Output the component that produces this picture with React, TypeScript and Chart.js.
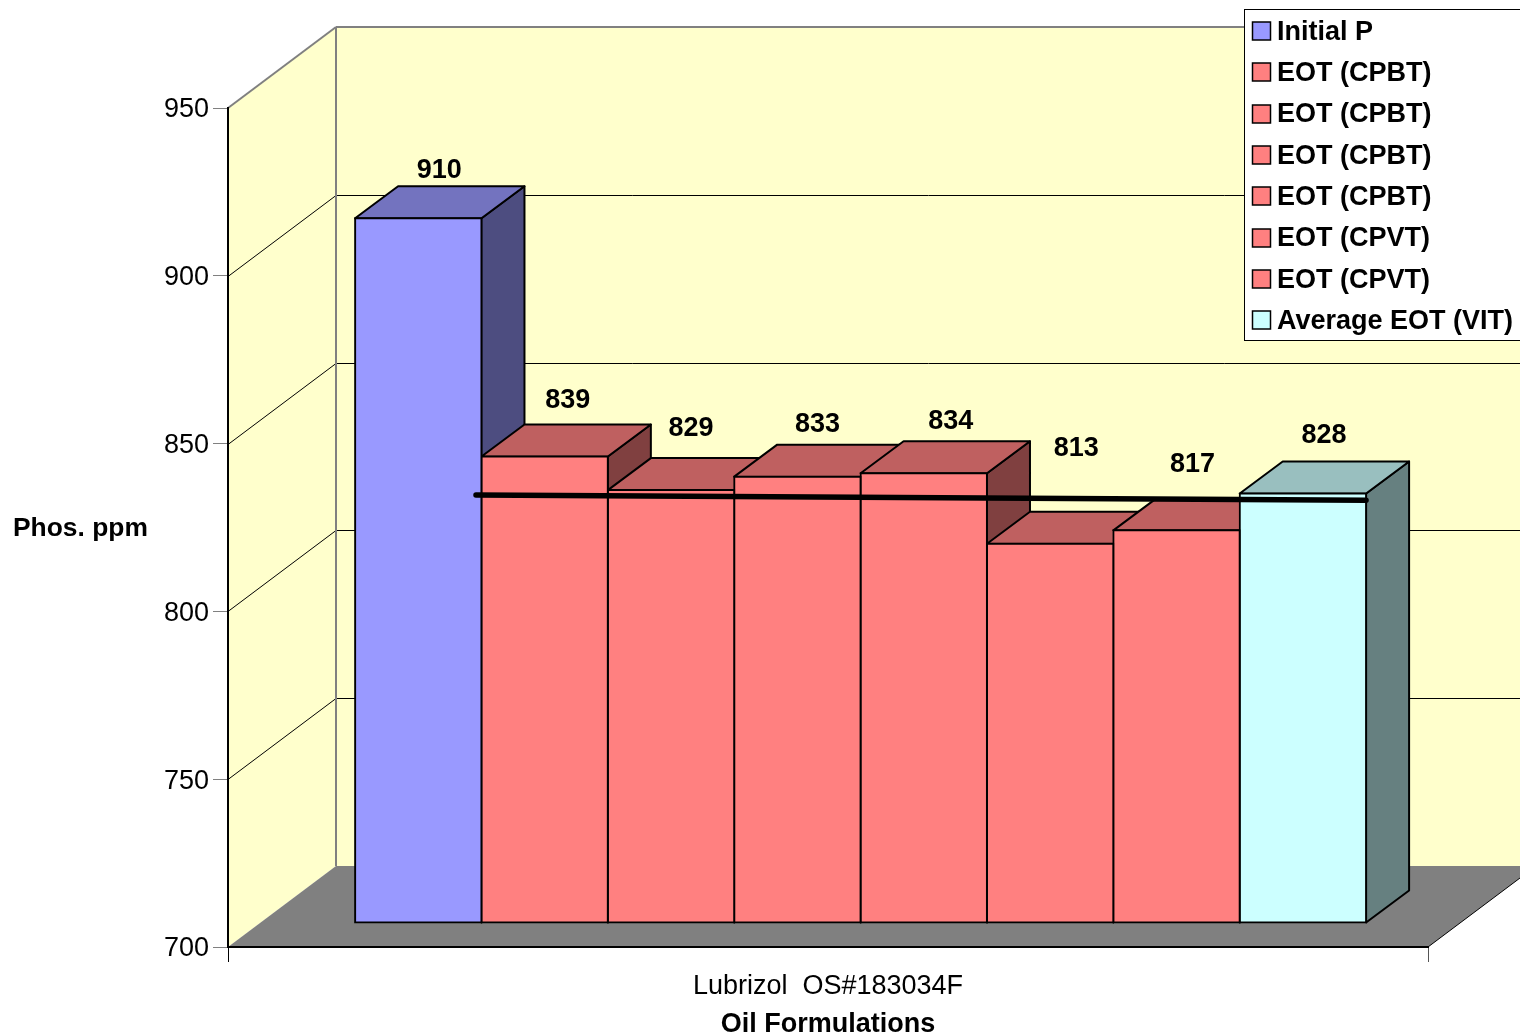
import React, { useEffect, useRef } from "react";
import { Chart, registerables } from "chart.js";

Chart.register(...registerables);

const CATEGORY = ["Lubrizol  OS#183034F"];
const SERIES_NAMES = [
  "Initial P",
  "EOT (CPBT)",
  "EOT (CPBT)",
  "EOT (CPBT)",
  "EOT (CPBT)",
  "EOT (CPVT)",
  "EOT (CPVT)",
  "Average EOT (VIT)",
];
const SERIES_VALUES = [910, 839, 829, 833, 834, 813, 817, 828];
const Y_MIN = 700;
const Y_MAX = 950;
const Y_STEP = 50;
// Black reference line: x is a fractional position on the single-category axis, y is ppm
const LINE_POINTS = [
  { x: -0.3205, y: 827.5 },
  { x: 0.4212, y: 826.0 },
];

const FRONT_COLORS = ["#9999FF", "#FF8080", "#FF8080", "#FF8080", "#FF8080", "#FF8080", "#FF8080", "#CCFFFF"];
const TOP_COLORS = ["#7373BF", "#BF6060", "#BF6060", "#BF6060", "#BF6060", "#BF6060", "#BF6060", "#99BFBF"];
const SIDE_COLORS = ["#4D4D80", "#804040", "#804040", "#804040", "#804040", "#804040", "#804040", "#668080"];
// Hand-placed data labels, relative to the bar's front-top centre
const LABEL_OFFSETS = [
  [21, -48], [23, -56], [20, -62], [20, -52], [27, -52], [26, -95], [16, -66], [21, -58],
];

const FONT = '"Liberation Sans", Arial, sans-serif';
const WALL_DX = 108;
const WALL_DY = -81;
const BAR_SHIFT_X = 32.6;
const BAR_SHIFT_Y = -24;
const BAR_DX = 43;
const BAR_DY = -32;

const poly = (ctx: CanvasRenderingContext2D, pts: number[][], fill: string | null, stroke: string | null, lw = 1) => {
  ctx.beginPath();
  pts.forEach((p, i) => (i ? ctx.lineTo(p[0], p[1]) : ctx.moveTo(p[0], p[1])));
  ctx.closePath();
  if (fill) {
    ctx.fillStyle = fill;
    ctx.fill();
  }
  if (stroke) {
    ctx.strokeStyle = stroke;
    ctx.lineWidth = lw;
    ctx.lineJoin = "round";
    ctx.stroke();
  }
};

const line = (ctx: CanvasRenderingContext2D, x1: number, y1: number, x2: number, y2: number, color: string, lw: number) => {
  ctx.beginPath();
  ctx.moveTo(x1, y1);
  ctx.lineTo(x2, y2);
  ctx.strokeStyle = color;
  ctx.lineWidth = lw;
  ctx.stroke();
};

const box3d = {
  id: "box3d",
  beforeDraw(chart: any) {
    const { ctx, chartArea: a, scales } = chart;
    const { left: l, right: r, top: t, bottom: b } = a;
    ctx.save();
    // left wall
    poly(ctx, [[l, t], [l + WALL_DX, t + WALL_DY], [l + WALL_DX, b + WALL_DY], [l, b]], "#FFFFCC", null);
    // back wall
    poly(ctx, [[l + WALL_DX, t + WALL_DY], [r + WALL_DX, t + WALL_DY], [r + WALL_DX, b + WALL_DY], [l + WALL_DX, b + WALL_DY]], "#FFFFCC", null);
    // grid lines
    for (let v = Y_MIN + Y_STEP; v < Y_MAX; v += Y_STEP) {
      const y = Math.round(scales.y.getPixelForValue(v)) + 0.5;
      line(ctx, l, y, l + WALL_DX, y + WALL_DY, "#000", 1);
      line(ctx, l + WALL_DX, y + WALL_DY, r + WALL_DX, y + WALL_DY, "#000", 1);
    }
    // floor
    poly(ctx, [[l, b], [l + WALL_DX, b + WALL_DY], [r + WALL_DX, b + WALL_DY], [r, b]], "#808080", null);
    line(ctx, r, b, r + WALL_DX, b + WALL_DY, "#000", 1);
    // wall edges
    line(ctx, l, t, l + WALL_DX, t + WALL_DY, "#808080", 2);
    line(ctx, l + WALL_DX, t + WALL_DY, r + WALL_DX, t + WALL_DY, "#808080", 2);
    line(ctx, l + WALL_DX, t + WALL_DY, l + WALL_DX, b + WALL_DY, "#808080", 2);
    ctx.restore();
  },
  beforeDatasetsDraw(chart: any) {
    const { ctx } = chart;
    ctx.save();
    ctx.translate(BAR_SHIFT_X, BAR_SHIFT_Y);
    // sides and tops, left to right; the native bar fronts then paint over them
    SERIES_VALUES.forEach((_, i) => {
      const el = chart.getDatasetMeta(i).data[0];
      const x0 = el.x - el.width / 2;
      const x1 = el.x + el.width / 2;
      const y0 = el.y;
      const yb = el.base;
      poly(ctx, [[x1, y0], [x1 + BAR_DX, y0 + BAR_DY], [x1 + BAR_DX, yb + BAR_DY], [x1, yb]], SIDE_COLORS[i], "#000", 2);
      poly(ctx, [[x0, y0], [x0 + BAR_DX, y0 + BAR_DY], [x1 + BAR_DX, y0 + BAR_DY], [x1, y0]], TOP_COLORS[i], "#000", 2);
    });
  },
  afterDatasetsDraw(chart: any) {
    const { ctx } = chart;
    ctx.restore();
    ctx.save();
    ctx.font = `bold 27px ${FONT}`;
    ctx.fillStyle = "#000";
    ctx.textAlign = "center";
    ctx.textBaseline = "middle";
    SERIES_VALUES.forEach((v, i) => {
      const el = chart.getDatasetMeta(i).data[0];
      ctx.fillText(
        String(v),
        el.x + BAR_SHIFT_X + LABEL_OFFSETS[i][0],
        el.y + BAR_SHIFT_Y + LABEL_OFFSETS[i][1]
      );
    });
    ctx.restore();
  },
  afterDraw(chart: any) {
    const { ctx } = chart;
    ctx.save();
    // y axis title (horizontal)
    ctx.font = `bold 26.4px ${FONT}`;
    ctx.fillStyle = "#000";
    ctx.textAlign = "left";
    ctx.textBaseline = "middle";
    ctx.fillText("Phos. ppm", 13, 529);
    // legend
    ctx.fillStyle = "#fff";
    ctx.fillRect(1244.5, 9.5, 290, 331);
    ctx.strokeStyle = "#000";
    ctx.lineWidth = 1;
    ctx.strokeRect(1244.5, 9.5, 290, 331);
    ctx.font = `bold 27px ${FONT}`;
    SERIES_NAMES.forEach((name, i) => {
      const cy = 31 + i * 41.3;
      ctx.fillStyle = FRONT_COLORS[i];
      ctx.fillRect(1252.5, Math.round(cy) - 9, 18, 18);
      ctx.strokeStyle = "#000";
      ctx.lineWidth = 1.5;
      ctx.strokeRect(1252.5, Math.round(cy) - 9, 18, 18);
      ctx.fillStyle = "#000";
      ctx.fillText(name, 1277, cy + 1.4);
    });
    ctx.restore();
  },
};

export default function App() {
  const ref = useRef<HTMLCanvasElement>(null);
  useEffect(() => {
    document.body.style.margin = "0";
    document.body.style.background = "#fff";
    const bars = SERIES_VALUES.map((v, i) => ({
      type: "bar",
      label: SERIES_NAMES[i],
      data: [v],
      base: Y_MIN,
      backgroundColor: FRONT_COLORS[i],
      borderColor: "#000",
      borderWidth: 2,
      borderSkipped: false,
      inflateAmount: 1,
      categoryPercentage: 0.8425,
      barPercentage: 1,
      order: 0,
      clip: false,
    }));
    const chart = new Chart(ref.current as HTMLCanvasElement, {
      type: "bar",
      data: {
        labels: CATEGORY,
        datasets: [
          ...bars,
          {
            type: "line",
            label: "Reference",
            data: LINE_POINTS,
            parsing: false,
            borderColor: "#000",
            borderWidth: 5.5,
            borderCapStyle: "round",
            pointRadius: 0,
            order: -1,
            clip: false,
          },
        ] as any,
      },
      plugins: [box3d],
      options: {
        animation: false,
        responsive: false,
        events: [],
        layout: { padding: { left: 0, top: 108, right: 92, bottom: 0 } },
        plugins: { legend: { display: false }, tooltip: { enabled: false }, title: { display: false } },
        scales: {
          x: {
            type: "category",
            afterFit: (s: any) => {
              s.height = 88;
            },
            border: { color: "#000", width: 2 },
            grid: {
              offset: true,
              drawOnChartArea: false,
              drawTicks: true,
              tickLength: 15,
              tickColor: (c: any) => (c.index === 0 ? "#000" : "#555"),
            },
            ticks: { color: "#000", font: { family: FONT, size: 27 }, padding: 8.5, maxRotation: 0, autoSkip: false },
            title: {
              display: true,
              text: "Oil Formulations",
              color: "#000",
              font: { family: FONT, size: 27, weight: "bold" },
              padding: { top: 0, bottom: -6 },
            },
          },
          y: {
            type: "linear",
            min: Y_MIN,
            max: Y_MAX,
            afterFit: (s: any) => {
              s.width = 228;
            },
            border: { color: "#000", width: 2 },
            grid: { drawOnChartArea: false, drawTicks: true, tickLength: 15, tickColor: "#808080" },
            ticks: { stepSize: Y_STEP, color: "#000", font: { family: FONT, size: 27 }, padding: 4, labelOffset: 2 },
          },
        },
      } as any,
    });
    return () => chart.destroy();
  }, []);
  return <canvas ref={ref} width={1520} height={1035} style={{ display: "block" }} />;
}
